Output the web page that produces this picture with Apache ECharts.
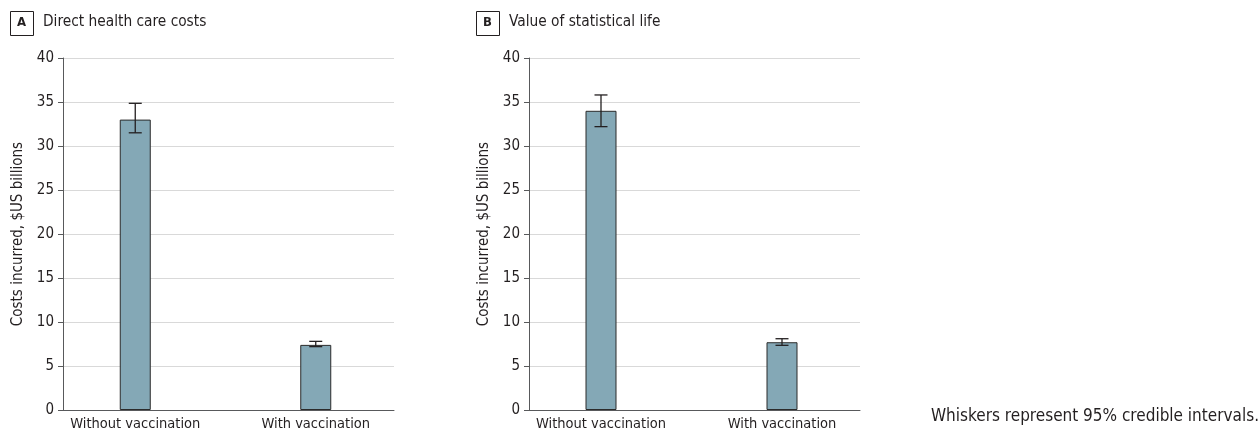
<!DOCTYPE html>
<html><head><meta charset="utf-8">
<script src="https://cdn.jsdelivr.net/npm/echarts@6/dist/echarts.min.js"></script>
<style>html,body{margin:0;padding:0;background:#fff}#c{width:1260px;height:434px}</style>
</head><body><div id="c"></div>
<script>
const categories = ['Without vaccination', 'With vaccination'];
const panelTitles = ['Direct health care costs', 'Value of statistical life'];
const panelLetters = ['A', 'B'];
const costsA = [33.0, 7.4];
const lowA = [31.5, 7.2];
const highA = [34.85, 7.8];
const costsB = [34.0, 7.7];
const lowB = [32.2, 7.35];
const highB = [35.8, 8.1];
const yTicks = [0, 5, 10, 15, 20, 25, 30, 35, 40];
const yName = 'Costs incurred, $US billions';
const note = 'Whiskers represent 95% credible intervals.';

const FONT = '"DejaVu Sans Condensed", "Liberation Sans Narrow", "Noto Sans", sans-serif';
const TXT = '#231f20';
const BAR = '#84a8b6';

const chart = echarts.init(document.getElementById('c'), null, {renderer: 'canvas'});

function bgY(gi, showName) {
  return {
    type: 'value', gridIndex: gi, min: yTicks[0], max: yTicks[yTicks.length - 1], interval: 5,
    name: showName ? yName : '', nameLocation: 'middle', nameGap: 37,
    nameTextStyle: {fontFamily: FONT, fontSize: 15, color: TXT},
    axisLine: {show: true, lineStyle: {color: '#58595b', width: 1}},
    axisTick: {show: true, length: 5, lineStyle: {color: '#58595b'}},
    axisLabel: {fontFamily: FONT, fontSize: 15, color: TXT, margin: 9},
    splitLine: {show: true, lineStyle: {color: '#d9d9d9', width: 1}}
  };
}
function barY(gi) {
  return {
    type: 'value', gridIndex: gi, min: yTicks[0], max: yTicks[yTicks.length - 1], interval: 5,
    axisLine: {show: false}, axisTick: {show: false}, axisLabel: {show: false}, splitLine: {show: false}
  };
}
function bgX(gi) {
  return {
    type: 'category', gridIndex: gi, data: categories,
    axisLine: {show: true, lineStyle: {color: '#58595b', width: 1}},
    axisTick: {show: false}, axisLabel: {show: false}, splitLine: {show: false}
  };
}
function barX(gi) {
  return {
    type: 'category', gridIndex: gi, data: categories,
    axisLine: {show: false}, axisTick: {show: false},
    axisLabel: {fontFamily: FONT, fontSize: 14.5, color: TXT, margin: 7}
  };
}
function errSeries(xi, low, high) {
  const data = categories.map((c, i) => [i, low[i], high[i]]);
  return {
    type: 'custom', xAxisIndex: xi, yAxisIndex: xi, z: 5,
    data: data,
    encode: {x: 0, y: [1, 2]},
    renderItem: function (params, api) {
      const x = api.value(0);
      const lo = api.coord([x, api.value(1)]);
      const hi = api.coord([x, api.value(2)]);
      const hw = 6.5;
      const st = {stroke: '#231f20', lineWidth: 1.3};
      return {type: 'group', children: [
        {type: 'line', shape: {x1: lo[0], y1: lo[1], x2: hi[0], y2: hi[1]}, style: st},
        {type: 'line', shape: {x1: hi[0] - hw, y1: hi[1], x2: hi[0] + hw, y2: hi[1]}, style: st},
        {type: 'line', shape: {x1: lo[0] - hw, y1: lo[1], x2: lo[0] + hw, y2: lo[1]}, style: st}
      ]};
    }
  };
}
function barSeries(xi, vals) {
  return {
    type: 'bar', xAxisIndex: xi, yAxisIndex: xi, data: vals, barWidth: 31, z: 3,
    itemStyle: {color: BAR, borderColor: '#2b2b2b', borderWidth: 1}
  };
}
function titleGraphic(x, letter, text) {
  return [
    {type: 'rect', left: x, top: 11, shape: {width: 23, height: 24},
     style: {fill: '#fff', stroke: '#231f20', lineWidth: 1}},
    {type: 'text', left: x + 7, top: 16, style: {text: letter, font: 'bold 13px ' + FONT, fill: TXT}},
    {type: 'text', left: x + 33, top: 15, style: {text: text, font: '15.3px ' + FONT, fill: TXT}}
  ];
}

chart.setOption({
  animation: false,
  grid: [
    {left: 63, right: 1260 - 394, top: 58, bottom: 24},
    {left: 45, width: 361, top: 58, bottom: 24},
    {left: 529, right: 1260 - 860, top: 58, bottom: 24},
    {left: 510.5, width: 362, top: 58, bottom: 24}
  ],
  xAxis: [bgX(0), barX(1), bgX(2), barX(3)],
  yAxis: [bgY(0, true), barY(1), bgY(2, true), barY(3)],
  series: [
    barSeries(1, costsA), errSeries(1, lowA, highA),
    barSeries(3, costsB), errSeries(3, lowB, highB)
  ],
  graphic: [
    ...titleGraphic(10, panelLetters[0], panelTitles[0]),
    ...titleGraphic(476, panelLetters[1], panelTitles[1]),
    {type: 'text', left: 931, top: 408, style: {text: note, font: '17px ' + FONT, fill: TXT}}
  ]
});
</script></body></html>
